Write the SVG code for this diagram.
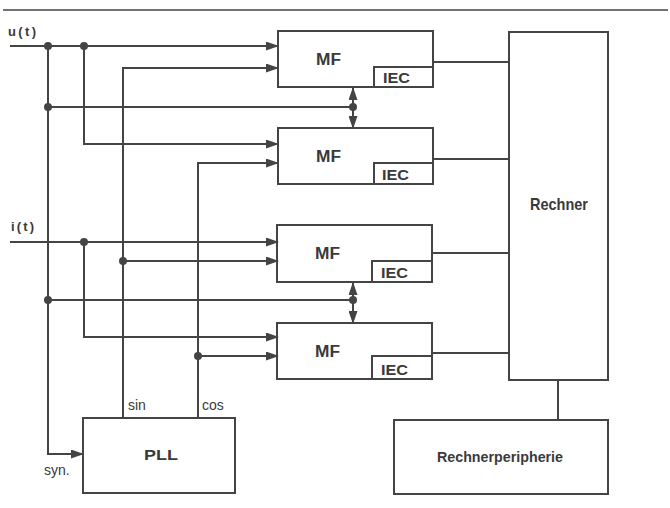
<svg xmlns="http://www.w3.org/2000/svg" width="670" height="508" viewBox="0 0 670 508">
<style>
.box{fill:none;stroke:#444;stroke-width:2}
.ln{fill:none;stroke:#444;stroke-width:2}
.arr{marker-end:url(#ah)}
.dot{fill:#444}
text{font-family:"Liberation Sans",Arial,sans-serif;font-weight:bold;fill:#3a3a3a}
.big{font-size:16px}
.med{font-size:15px}
.sm{font-size:14px;font-weight:normal}
</style>
<defs>
<marker id="ah" markerUnits="userSpaceOnUse" markerWidth="13" markerHeight="9" refX="12" refY="4.5" orient="auto">
<path d="M0,0 L13,4.5 L0,9 z" fill="#444"/>
</marker>
</defs>
<line x1="3" y1="10" x2="668" y2="10" stroke="#444" stroke-width="1.5"/>
<text x="8" y="36" style="font-size:13px" textLength="28" lengthAdjust="spacing">u(t)</text>
<text x="11" y="231" style="font-size:13px" textLength="23" lengthAdjust="spacing">i(t)</text>
<g id="connectors">
<path class="ln arr" d="M10,46 H278"/>
<path class="ln arr" d="M48,46 V454 H83"/>
<path class="ln arr" d="M84,46 V144 H278"/>
<path class="ln arr" d="M123,418 V68 H278"/>
<path class="ln arr" d="M198,418 V163 H278"/>
<path class="ln" d="M48,107 H353"/>
<path class="ln arr" d="M353,107 V88"/>
<path class="ln arr" d="M353,107 V128"/>
<path class="ln arr" d="M10,242 H278"/>
<path class="ln arr" d="M84,242 V337 H278"/>
<path class="ln arr" d="M123,261 H278"/>
<path class="ln arr" d="M198,356 H278"/>
<path class="ln" d="M48,300 H353"/>
<path class="ln arr" d="M353,300 V283"/>
<path class="ln arr" d="M353,300 V323"/>
<path class="ln" d="M433,62 H509"/>
<path class="ln" d="M433,159 H509"/>
<path class="ln" d="M433,253 H509"/>
<path class="ln" d="M433,353 H509"/>
<path class="ln" d="M558,380 V420"/>
<circle class="dot" cx="48" cy="46" r="4"/>
<circle class="dot" cx="84" cy="46" r="4"/>
<circle class="dot" cx="48" cy="107" r="4"/>
<circle class="dot" cx="353" cy="107" r="4"/>
<circle class="dot" cx="84" cy="242" r="4"/>
<circle class="dot" cx="123" cy="261" r="4"/>
<circle class="dot" cx="48" cy="300" r="4"/>
<circle class="dot" cx="353" cy="300" r="4"/>
<circle class="dot" cx="198" cy="356" r="4"/>
</g>
<g id="mf1">
<rect class="box" x="278" y="31" width="155" height="56"/>
<rect class="box" x="374" y="67" width="59" height="20"/>
<text class="big" x="316" y="65" textLength="25" lengthAdjust="spacingAndGlyphs">MF</text>
<text class="med" x="383" y="83" textLength="27" lengthAdjust="spacingAndGlyphs">IEC</text>
</g>
<g id="mf2">
<rect class="box" x="278" y="128" width="155" height="56"/>
<rect class="box" x="374" y="163" width="59" height="21"/>
<text class="big" x="316" y="162" textLength="25" lengthAdjust="spacingAndGlyphs">MF</text>
<text class="med" x="382" y="180" textLength="27" lengthAdjust="spacingAndGlyphs">IEC</text>
</g>
<g id="mf3">
<rect class="box" x="277" y="225" width="155" height="57"/>
<rect class="box" x="372" y="261" width="60" height="21"/>
<text class="big" x="315" y="259" textLength="25" lengthAdjust="spacingAndGlyphs">MF</text>
<text class="med" x="381" y="278" textLength="27" lengthAdjust="spacingAndGlyphs">IEC</text>
</g>
<g id="mf4">
<rect class="box" x="277" y="323" width="155" height="56"/>
<rect class="box" x="372" y="356" width="60" height="23"/>
<text class="big" x="315" y="357" textLength="25" lengthAdjust="spacingAndGlyphs">MF</text>
<text class="med" x="381" y="375" textLength="27" lengthAdjust="spacingAndGlyphs">IEC</text>
</g>
<g id="rechner">
<rect class="box" x="509" y="32" width="99" height="348"/>
<text x="530" y="210" style="font-size:17px" textLength="58" lengthAdjust="spacingAndGlyphs">Rechner</text>
</g>
<g id="peripherie">
<rect class="box" x="394" y="420" width="214" height="74"/>
<text x="437" y="462" style="font-size:15px" textLength="126" lengthAdjust="spacingAndGlyphs">Rechnerperipherie</text>
</g>
<g id="pll">
<rect class="box" x="83" y="418" width="152" height="75"/>
<text x="144" y="460" style="font-size:14px" textLength="34" lengthAdjust="spacingAndGlyphs">PLL</text>
<text class="sm" x="128" y="410">sin</text>
<text class="sm" x="202" y="410">cos</text>
<text class="sm" x="44" y="475">syn.</text>
</g>
</svg>
